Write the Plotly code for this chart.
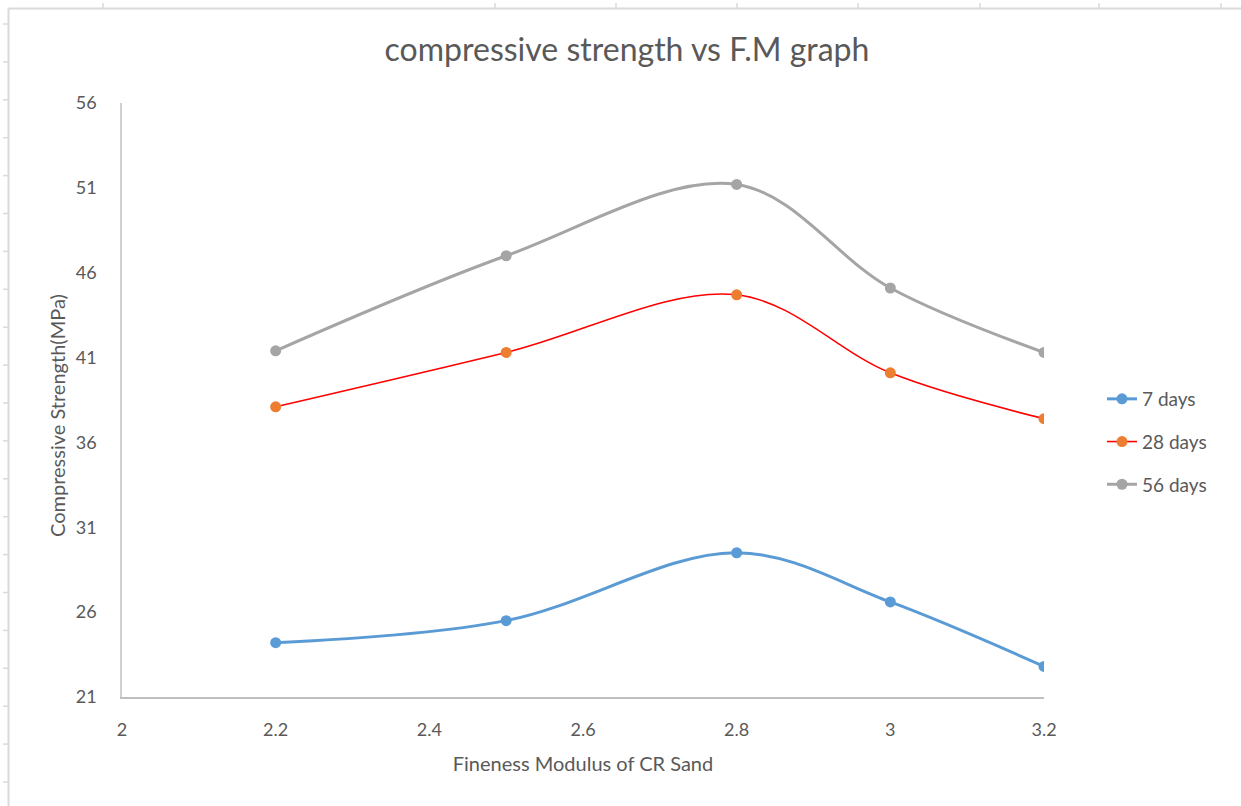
import plotly.graph_objects as go

# Fineness modulus of crushed-rock sand
fm = [2.2, 2.5, 2.8, 3.0, 3.2]

# Compressive strength (MPa) at each curing age
days_7 = [24.2, 25.5, 29.5, 26.6, 22.8]
days_28 = [38.1, 41.3, 44.7, 40.1, 37.4]
days_56 = [41.4, 47.0, 51.2, 45.1, 41.3]

x_ticks = [2, 2.2, 2.4, 2.6, 2.8, 3, 3.2]
x_tick_text = ["2", "2.2", "2.4", "2.6", "2.8", "3", "3.2"]
y_ticks = [21, 26, 31, 36, 41, 46, 51, 56]

W, H = 1241, 806
L, R, T, B = 122, 1044, 103, 697
FONT = "Lato, sans-serif"
TXT = "#595959"

fig = go.Figure()

series = [
    ("7 days", days_7, "#5b9bd5", 3, "#5b9bd5"),
    ("28 days", days_28, "#ff0000", 1.6, "#ed7d31"),
    ("56 days", days_56, "#a5a5a5", 3, "#a5a5a5"),
]
for name, vals, lc, lw, mc in series:
    fig.add_trace(go.Scatter(
        x=fm, y=vals, name=name, legendgroup=name, mode="lines+markers",
        line=dict(color=lc, width=lw, shape="spline", smoothing=1.0),
        marker=dict(color=mc, size=11),
    ))


def px_x(px):
    return (px - L) / (R - L)


def px_y(py):
    return (B - py) / (B - T)


# Worksheet frame around the chart object: border plus cell-grid stubs
shapes = []
grid = "#dadada"
shapes.append(dict(type="line", xref="paper", yref="paper",
                   x0=px_x(8.5), x1=px_x(W + 5), y0=px_y(8.5), y1=px_y(8.5),
                   line=dict(color=grid, width=2)))
shapes.append(dict(type="line", xref="paper", yref="paper",
                   x0=px_x(8.5), x1=px_x(8.5), y0=px_y(8.5), y1=px_y(H + 5),
                   line=dict(color=grid, width=2)))
for cx in [103, 495, 616, 737, 858, 980, 1099, 1221]:
    shapes.append(dict(type="line", xref="paper", yref="paper",
                       x0=px_x(cx), x1=px_x(cx), y0=px_y(3), y1=px_y(8),
                       line=dict(color=grid, width=1.5)))
ry = 24.0
while ry < H:
    shapes.append(dict(type="line", xref="paper", yref="paper",
                       x0=px_x(3), x1=px_x(8), y0=px_y(ry), y1=px_y(ry),
                       line=dict(color=grid, width=1.5)))
    ry += 37.9

fig.update_layout(
    width=W, height=H,
    margin=dict(l=L, r=W - R, t=T, b=H - B, pad=0),
    paper_bgcolor="white", plot_bgcolor="white",
    font=dict(family=FONT, color=TXT, size=18),
    title=dict(text="compressive strength vs F.M graph",
               x=627 / W, xanchor="center", y=1 - 50 / H, yanchor="middle",
               font=dict(size=32, color=TXT, family=FONT)),
    xaxis=dict(
        range=[2, 3.2], tickvals=x_ticks, ticktext=x_tick_text,
        showgrid=False, zeroline=False, showline=True, linecolor="#bfbfbf",
        linewidth=1.5, ticks="", ticklen=0, ticklabelstandoff=16,
        tickfont=dict(size=18, color=TXT, family=FONT),
        title=dict(text="Fineness Modulus of CR Sand", standoff=18,
                   font=dict(size=20, color=TXT, family=FONT)),
    ),
    yaxis=dict(
        range=[21, 56], tickvals=y_ticks,
        showgrid=False, zeroline=False, showline=True, linecolor="#d0d0d0",
        linewidth=1.5, ticks="", ticklen=0, ticklabelstandoff=20,
        tickfont=dict(size=18, color=TXT, family=FONT),
    ),
    annotations=[dict(
        text="Compressive Strength(MPa)", textangle=-90,
        xref="paper", yref="paper", x=px_x(57), y=px_y(416),
        xanchor="center", yanchor="middle", showarrow=False,
        font=dict(size=20, color=TXT, family=FONT),
    )],
    legend=dict(x=px_x(1102), y=px_y(380), xanchor="left", yanchor="top",
                font=dict(size=19, color=TXT, family=FONT),
                traceorder="grouped", tracegroupgap=15,
                bgcolor="rgba(0,0,0,0)"),
    shapes=shapes,
    showlegend=True,
)

fig.write_html("out.html")
